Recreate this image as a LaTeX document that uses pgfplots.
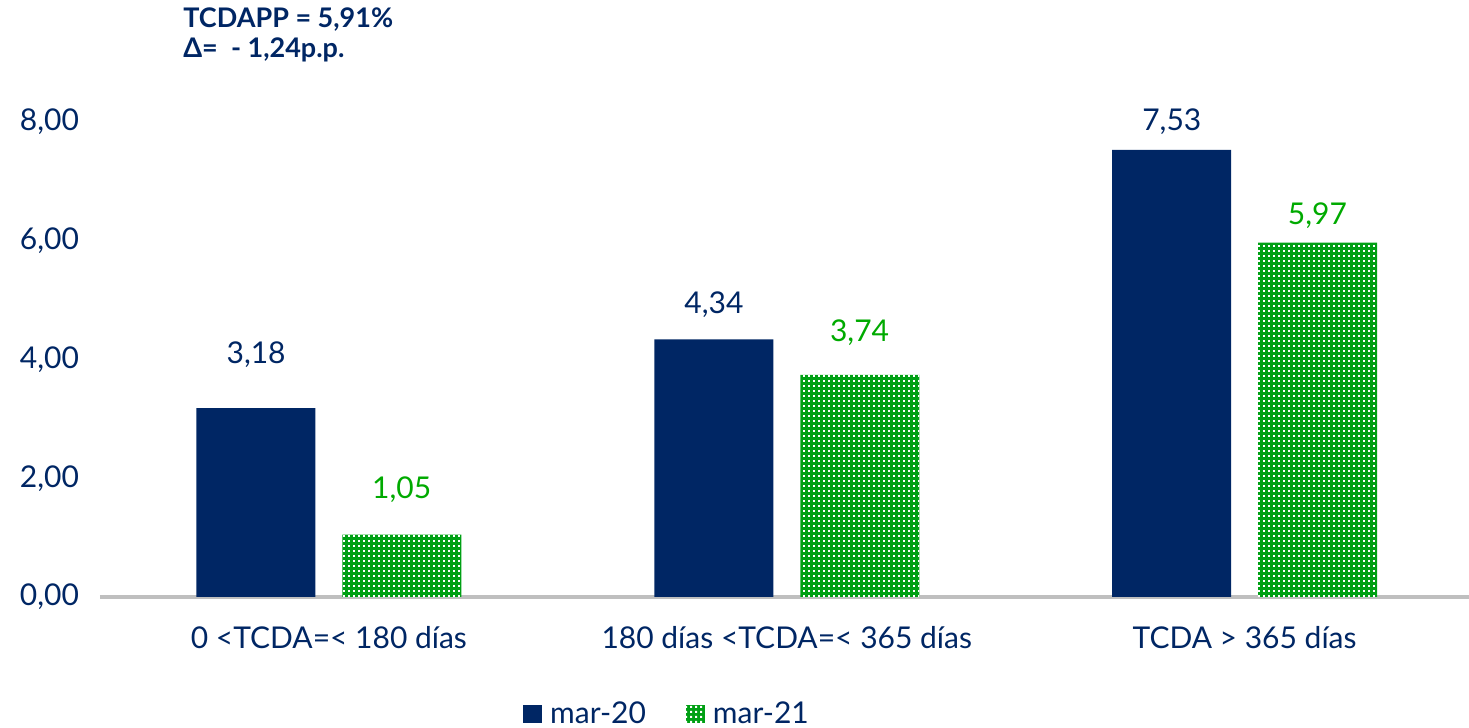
\documentclass[border=0pt]{standalone}
\usepackage{pgfplots}
\pgfplotsset{compat=1.18}
\usetikzlibrary{patterns.meta}
\usepackage{fontspec}
\setmainfont{Lato}
\definecolor{navy}{RGB}{0,38,100}
\definecolor{grn}{RGB}{0,160,20}
\definecolor{lgrn}{RGB}{0,170,0}
\definecolor{axgray}{RGB}{191,191,191}
\pgfdeclarepattern{name=whitedots, type=uncolored,
  bottom left={\pgfpoint{0pt}{0pt}}, top right={\pgfpoint{2.25pt}{2.25pt}},
  tile size={\pgfpoint{2.25pt}{2.25pt}},
  code={\pgfpathrectangle{\pgfpoint{0.6pt}{0.6pt}}{\pgfpoint{1.05pt}{1.05pt}}\pgfusepath{fill}}}
\newcommand\lblfont{\fontsize{15}{18}\selectfont}
\begin{document}
\begin{tikzpicture}
\useasboundingbox (-50pt,-65.5pt) rectangle (684.5pt,298.5pt);
\begin{axis}[
  scale only axis, width=684.5pt, height=237.5pt,
  xmin=-0.5, xmax=2.49, ymin=0, ymax=8,
  ybar=13.5pt, bar width=59.5pt,
  axis x line*=bottom, axis y line*=left,
  x axis line style={-, draw=axgray, line width=1.6pt},
  y axis line style={draw=none},
  major tick length=0pt,
  xtick={0,1,2},
  xticklabels={0 <TCDA=< 180 días, 180 días <TCDA=< 365 días, TCDA > 365 días},
  ytick={0,2,4,6,8},
  yticklabel style={/pgf/number format/fixed, /pgf/number format/fixed zerofill,
    /pgf/number format/precision=2, /pgf/number format/use comma,
    /pgf/number format/assume math mode=true, xshift=-7pt},
  ticklabel style={font=\lblfont, text=navy},
  xticklabel style={yshift=-11pt},
  legend style={at={(285pt,-58.5pt)}, anchor=center, draw=none, fill=none,
    legend columns=2, font=\lblfont, text=navy,
    /tikz/every even column/.append style={column sep=16pt},
    nodes={inner xsep=4pt}},
  legend image code/.code={\fill[#1] (0pt,-4.5pt) rectangle (9.5pt,4.5pt);},
  clip=false,
]
\addplot[fill=navy, draw=none] coordinates {(0,3.18) (1,4.34) (2,7.53)};
\addlegendentry{mar-20}
\addplot[fill=grn, draw=none, postaction={pattern=whitedots, pattern color=white}]
  coordinates {(0,1.05) (1,3.74) (2,5.97)};
\addlegendentry{mar-21}
\begin{scope}[font=\lblfont]
\node[text=navy] at (axis cs:-0.159,4.08) {3,18};
\node[text=navy] at (axis cs:0.841,4.92) {4,34};
\node[text=navy] at (axis cs:1.841,8.0) {7,53};
\node[text=lgrn] at (axis cs:0.159,1.80) {1,05};
\node[text=lgrn] at (axis cs:1.159,4.45) {3,74};
\node[text=lgrn] at (axis cs:2.159,6.43) {5,97};
\end{scope}
\end{axis}
\node[anchor=north west, align=left, inner sep=0pt, text=navy,
  font=\fontsize{13.5}{15}\selectfont\bfseries] at (41.5pt,295pt)
  {TCDAPP = 5,91\%\\Δ=\ \ - 1,24p.p.};
\end{tikzpicture}
\end{document}
